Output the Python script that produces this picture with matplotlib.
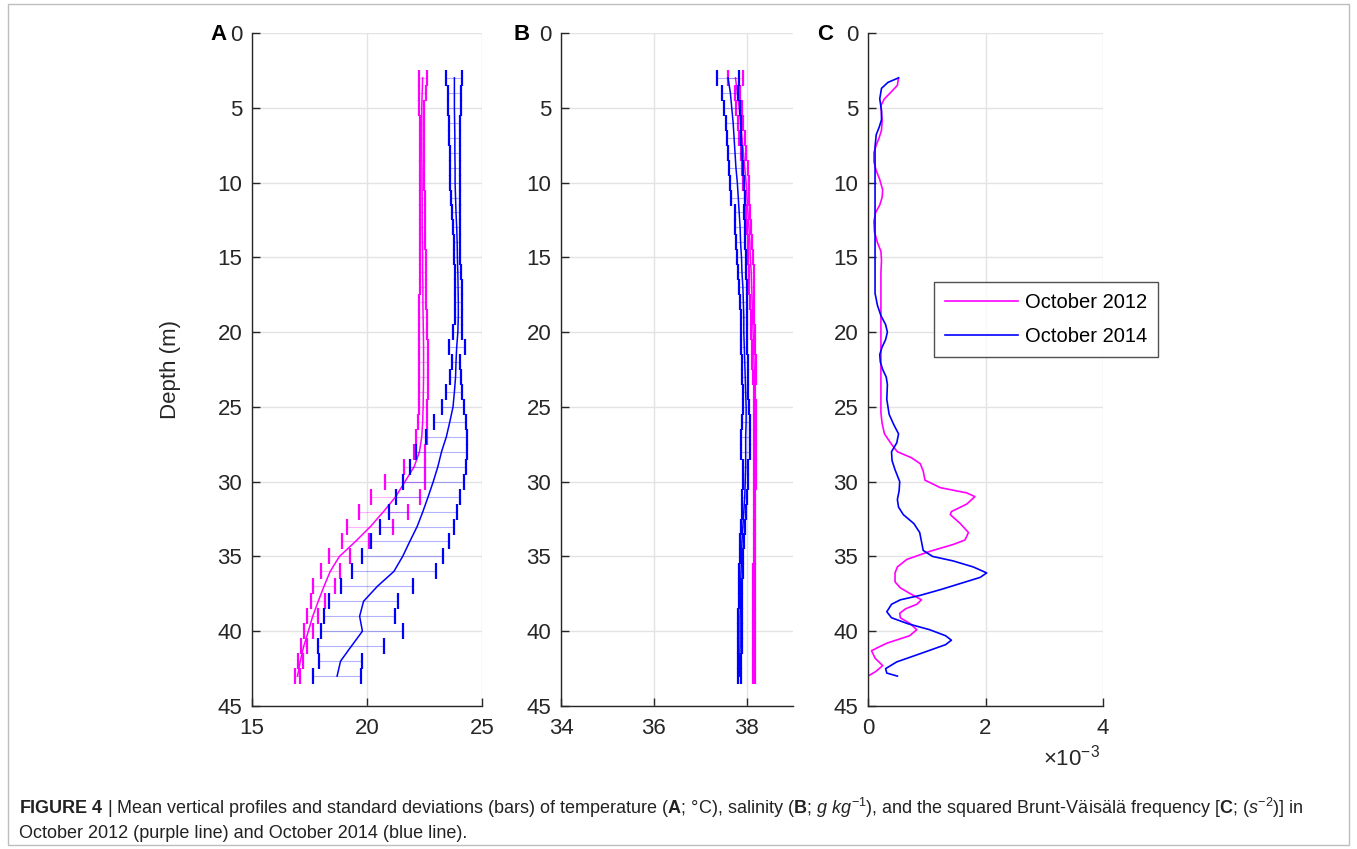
import numpy as np
import matplotlib
matplotlib.use("Agg")
import matplotlib.pyplot as plt
from matplotlib.patches import Rectangle

plt.rcParams["font.family"] = ["Liberation Sans", "DejaVu Sans"]
plt.rcParams["mathtext.fontset"] = "custom"
plt.rcParams["mathtext.rm"] = "Liberation Sans"
plt.rcParams["mathtext.it"] = "Liberation Sans:italic"
plt.rcParams["mathtext.bf"] = "Liberation Sans:bold"

MAGENTA = "#ff00ff"
BLUE = "#0000ff"
DARK = "#262626"

# depth levels of the CTD profiles (m)
depth = np.arange(3, 44)

# temperature (deg C), October 2012 / October 2014
temp_2012 = [22.42, 22.40, 22.38, 22.38, 22.38, 22.38, 22.39, 22.39, 22.40, 22.40,
             22.40, 22.41, 22.42, 22.42, 22.43, 22.43, 22.44, 22.45, 22.46, 22.46,
             22.46, 22.45, 22.44, 22.42, 22.38, 22.28, 22.05, 21.65, 21.25, 20.72,
             20.15, 19.50, 18.80, 18.40, 18.13, 17.88, 17.64, 17.45, 17.25, 17.10, 16.98]
temp_2012_sd = [0.17, 0.15, 0.10, 0.09, 0.09, 0.09, 0.09, 0.10, 0.10, 0.10,
                0.10, 0.12, 0.13, 0.13, 0.14, 0.15, 0.16, 0.18, 0.20, 0.21,
                0.20, 0.19, 0.18, 0.20, 0.25, 0.25, 0.45, 0.87, 1.06, 1.05,
                1.00, 0.57, 0.45, 0.42, 0.47, 0.30, 0.24, 0.20, 0.13, 0.12, 0.10]
temp_2014 = [23.80, 23.80, 23.80, 23.81, 23.82, 23.82, 23.83, 23.83, 23.85, 23.87,
             23.90, 23.92, 23.93, 23.95, 23.96, 23.97, 23.97, 23.95, 23.90, 23.87,
             23.85, 23.80, 23.74, 23.60, 23.45, 23.24, 23.08, 22.88, 22.66, 22.43,
             22.18, 21.86, 21.55, 21.17, 20.45, 19.85, 19.68, 19.80, 19.32, 18.85, 18.70]
temp_2014_sd = [0.35, 0.30, 0.27, 0.25, 0.24, 0.23, 0.23, 0.23, 0.20, 0.18,
                0.14, 0.13, 0.13, 0.13, 0.15, 0.15, 0.16, 0.20, 0.35, 0.16,
                0.23, 0.35, 0.49, 0.70, 0.88, 1.12, 1.23, 1.32, 1.40, 1.48,
                1.60, 1.70, 1.76, 1.83, 1.56, 1.49, 1.55, 1.78, 1.43, 0.92, 1.05]

# salinity (g/kg)
sal_2012 = [37.76, 37.80, 37.84, 37.87, 37.90, 37.93, 37.96, 37.99, 38.01, 38.03,
            38.05, 38.07, 38.08, 38.10, 38.11, 38.12, 38.13, 38.14, 38.15, 38.16,
            38.17, 38.17, 38.18, 38.18, 38.18, 38.18, 38.18, 38.18, 38.17, 38.17,
            38.17, 38.17, 38.17, 38.16, 38.16, 38.16, 38.16, 38.16, 38.16, 38.16, 38.16]
sal_2012_sd = [0.17, 0.06, 0.06, 0.06, 0.06, 0.06, 0.06, 0.06, 0.05, 0.05,
               0.05, 0.05, 0.05, 0.05, 0.05, 0.04, 0.04, 0.04, 0.04, 0.04,
               0.04, 0.02, 0.02, 0.02, 0.02, 0.02, 0.02, 0.02, 0.02, 0.02,
               0.02, 0.02, 0.02, 0.02, 0.02, 0.02, 0.02, 0.02, 0.02, 0.02, 0.02]
sal_2014 = [37.60, 37.65, 37.68, 37.71, 37.73, 37.75, 37.77, 37.80, 37.82, 37.84,
            37.86, 37.87, 37.89, 37.90, 37.92, 37.93, 37.94, 37.94, 37.95, 37.96,
            37.97, 37.98, 37.99, 37.99, 37.98, 37.98, 37.98, 37.97, 37.96, 37.94,
            37.92, 37.90, 37.89, 37.88, 37.87, 37.87, 37.86, 37.86, 37.86, 37.85, 37.85]
sal_2014_sd = [0.23, 0.17, 0.17, 0.16, 0.15, 0.15, 0.15, 0.15, 0.15, 0.10,
               0.10, 0.10, 0.09, 0.09, 0.08, 0.08, 0.07, 0.06, 0.06, 0.06,
               0.06, 0.06, 0.06, 0.08, 0.10, 0.10, 0.05, 0.05, 0.05, 0.04,
               0.04, 0.04, 0.04, 0.04, 0.04, 0.04, 0.04, 0.04, 0.04, 0.04, 0.04]

# squared Brunt-Vaisala frequency (x 1e-3 s^-2)
n2_depth_2012 = [3.0, 3.5, 4.0, 4.4, 4.85, 5.4, 5.9, 6.5, 7.0, 7.5, 8.0, 8.6, 9.2, 9.8,
                 10.5, 11.0, 11.5, 12.0, 12.6, 13.3, 14.0, 14.6, 15.2, 16.0, 18.0, 20.0,
                 22.0, 24.0, 25.4, 26.1, 26.8, 27.5, 28.0, 28.4, 28.8, 29.3, 29.9, 30.4,
                 30.75, 31.0, 31.5, 32.0, 32.2, 32.8, 33.4, 33.9, 34.2, 34.65, 35.2, 35.7,
                 36.1, 36.7, 37.1, 37.4, 37.9, 38.2, 38.5, 38.8, 39.1, 39.5, 39.9, 40.3,
                 40.8, 41.3, 41.8, 42.3, 42.7, 43.0]
n2_2012 = [0.52, 0.50, 0.38, 0.28, 0.22, 0.23, 0.24, 0.23, 0.19, 0.14, 0.10, 0.10, 0.14, 0.20,
           0.25, 0.24, 0.20, 0.13, 0.10, 0.11, 0.16, 0.22, 0.23, 0.22, 0.22, 0.22,
           0.22, 0.22, 0.22, 0.24, 0.28, 0.40, 0.50, 0.74, 0.89, 0.94, 0.97, 1.23,
           1.68, 1.82, 1.68, 1.42, 1.40, 1.57, 1.71, 1.65, 1.45, 1.06, 0.66, 0.50,
           0.46, 0.46, 0.55, 0.68, 0.91, 0.83, 0.64, 0.54, 0.55, 0.72, 0.83, 0.71,
           0.32, 0.06, 0.12, 0.25, 0.13, 0.0]
n2_depth_2014 = [3.0, 3.3, 3.7, 4.4, 5.2, 5.8, 6.3, 6.8, 7.6, 9.0, 11.0, 13.0, 15.0, 17.4,
                 18.2, 18.9, 19.5, 20.0, 20.5, 21.0, 21.5, 22.0, 22.5, 23.0, 23.5, 24.5,
                 25.5, 26.2, 26.8, 27.4, 28.0, 28.6, 29.2, 30.0, 30.6, 31.2, 31.7, 32.2,
                 32.8, 33.4, 34.0, 34.6, 35.0, 35.3, 35.7, 36.1, 36.4, 36.8, 37.2, 37.6,
                 37.9, 38.2, 38.7, 39.1, 39.5, 39.9, 40.3, 40.6, 40.9, 41.5, 42.05, 42.5,
                 42.8, 43.0]
n2_2014 = [0.52, 0.34, 0.23, 0.20, 0.23, 0.23, 0.19, 0.14, 0.12, 0.12, 0.12, 0.12, 0.12, 0.12,
           0.16, 0.22, 0.30, 0.33, 0.30, 0.24, 0.20, 0.21, 0.25, 0.31, 0.33, 0.32,
           0.36, 0.44, 0.52, 0.49, 0.40, 0.41, 0.46, 0.54, 0.53, 0.50, 0.52, 0.60,
           0.78, 0.88, 0.91, 0.94, 1.10, 1.45, 1.79, 2.02, 1.91, 1.58, 1.25, 0.89,
           0.55, 0.40, 0.32, 0.40, 0.68, 1.05, 1.32, 1.42, 1.32, 0.89, 0.49, 0.30,
           0.32, 0.50]

W, H = 1357, 849
fig = plt.figure(figsize=(W / 100, H / 100), dpi=100)


def make_axes(left, right, letter, letter_x):
    ax = fig.add_axes([left / W, 1 - 706 / H, (right - left) / W, 673 / H])
    ax.set_ylim(45, 0)
    ax.set_yticks(range(0, 46, 5))
    for side in ("top", "right"):
        ax.spines[side].set_visible(False)
    for side in ("left", "bottom"):
        ax.spines[side].set_color(DARK)
        ax.spines[side].set_linewidth(1.0)
    ax.tick_params(direction="in", length=6, width=1, colors=DARK, labelsize=16)
    ax.tick_params(axis="x", pad=9)
    ax.tick_params(axis="y", pad=7)
    ax.grid(True, color="#e3e3e3", lw=1)
    ax.set_axisbelow(True)
    fig.text(letter_x / W, 1 - 35 / H, letter, fontsize=16, fontweight="bold",
             color="black", ha="center", va="center")
    return ax


def profile(ax, mean, sd, color):
    ax.plot(mean, depth, color=color, lw=1.1)
    eb = ax.errorbar(mean, depth, xerr=sd, fmt="none", ecolor=color,
                     elinewidth=0.8, capsize=5.6, capthick=1.6)
    eb[2][0].set_alpha(0.3)


# A: temperature
axA = make_axes(252, 482, "A", 219)
axA.set_xlim(15, 25)
axA.set_xticks([15, 20, 25])
profile(axA, temp_2012, temp_2012_sd, MAGENTA)
profile(axA, temp_2014, temp_2014_sd, BLUE)
axA.set_ylabel("Depth (m)", fontsize=16, color=DARK)
axA.yaxis.set_label_coords(-0.31, 0.5)

# B: salinity
axB = make_axes(561, 793, "B", 522)
axB.set_xlim(34, 39)
axB.set_xticks([34, 36, 38])
profile(axB, sal_2012, sal_2012_sd, MAGENTA)
profile(axB, sal_2014, sal_2014_sd, BLUE)

# C: N^2
axC = make_axes(868, 1103, "C", 825)
axC.set_xlim(0, 4)
axC.set_xticks([0, 2, 4])
axC.plot(n2_2012, n2_depth_2012, color=MAGENTA, lw=1.2, label="October 2012")
axC.plot(n2_2014, n2_depth_2014, color=BLUE, lw=1.2, label="October 2014")
leg = axC.legend(loc="upper left", bbox_to_anchor=(934 / W, 1 - 282 / H),
                 bbox_transform=fig.transFigure, borderaxespad=0, fontsize=14.5,
                 frameon=True, fancybox=False, edgecolor=DARK, handlelength=3.6,
                 handletextpad=0.35, borderpad=0.55, labelspacing=0.75)
leg.get_frame().set_linewidth(1.0)
fig.text(1100 / W, 1 - 758 / H, r"$\times10^{-3}$", fontsize=16, color=DARK,
         ha="right", va="center")

# caption
fig.text(19 / W, 1 - 808 / H,
         r"$\mathbf{FIGURE\ 4}$ | Mean vertical profiles and standard deviations (bars) of "
         r"temperature ($\mathbf{A}$; °C), salinity ($\mathbf{B}$; $g\ kg^{-1}$), and the "
         r"squared Brunt-Väisälä frequency [$\mathbf{C}$; ($s^{-2}$)] in",
         fontsize=13, color="#222222", ha="left", va="center")
fig.text(19 / W, 1 - 833 / H,
         "October 2012 (purple line) and October 2014 (blue line).",
         fontsize=13, color="#222222", ha="left", va="center")

# outer frame
fig.patches.append(Rectangle((8 / W, 4 / H), 1341 / W, 841 / H, transform=fig.transFigure,
                             fill=False, edgecolor="#bdbdbd", lw=1))

fig.savefig("out.png", dpi=100)
